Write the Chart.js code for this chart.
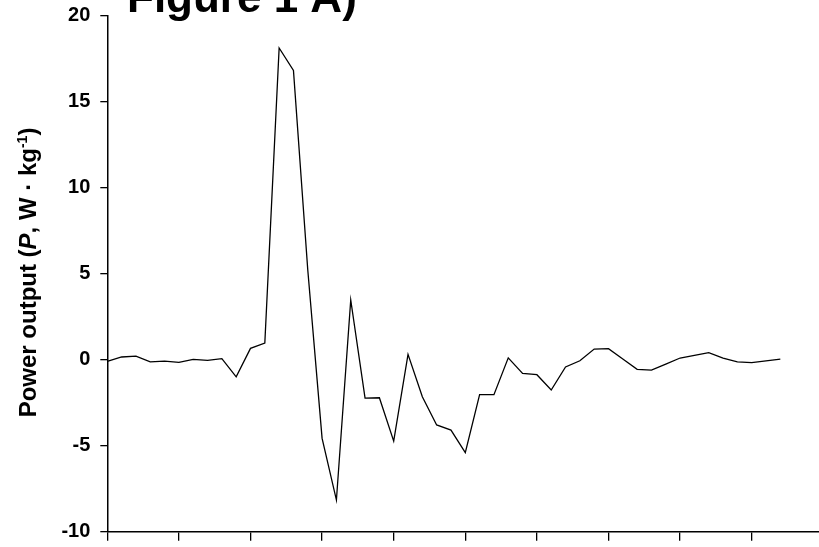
<!DOCTYPE html>
<html>
<head>
<meta charset="utf-8">
<script src="https://cdn.jsdelivr.net/npm/chart.js@4/dist/chart.umd.min.js"></script>
<style>
  html, body { margin: 0; padding: 0; background: #fff; }
  #wrap { width: 819px; height: 547px; }
</style>
</head>
<body>
<div id="wrap"><canvas id="power-chart" width="819" height="547"></canvas></div>
<script>
// power output per sample (W/kg)
const powerValues = [-0.1, 0.15, 0.2, -0.13, -0.09, -0.16, 0.01, -0.05, 0.05, -1.0,
  0.65, 0.96, 18.1, 16.8, 5.2, -4.58, -8.16, 3.46, -2.24, -2.22,
  -4.74, 0.3, -2.16, -3.8, -4.1, -5.41, -2.04, -2.04, 0.1, -0.8,
  -0.88, -1.77, -0.43, -0.07, 0.61, 0.63, 0.03, -0.57, -0.61, -0.26,
  0.09, 0.24, 0.4, 0.09, -0.13, -0.18, -0.08, 0.03];
const xTickValues = [0, 5, 10, 15, 20, 25, 30, 35, 40, 45];
const yTickValues = [-10, -5, 0, 5, 10, 15, 20];

const titleText = 'Figure 1 A)';
const fontFam = '"Liberation Sans", Arial, sans-serif';

// title + y axis label (mixed italic / superscript)
const textPlugin = {
  id: 'figText',
  afterDraw(chart) {
    const ctx = chart.ctx;
    ctx.save();
    ctx.fillStyle = '#000';
    ctx.font = 'bold 44px ' + fontFam;
    ctx.textBaseline = 'alphabetic';
    ctx.textAlign = 'left';
    ctx.fillText(titleText, 127, 12);

    const parts = [
      { t: 'Power output (', f: 'bold 24px ' + fontFam, dy: 0 },
      { t: 'P', f: 'italic bold 24px ' + fontFam, dy: 0 },
      { t: ', W \u00b7 kg', f: 'bold 24px ' + fontFam, dy: 0 },
      { t: '-1', f: 'bold 14px ' + fontFam, dy: -9 },
      { t: ')', f: 'bold 24px ' + fontFam, dy: 0 }
    ];
    let total = 0;
    parts.forEach(p => { ctx.font = p.f; p.w = ctx.measureText(p.t).width; total += p.w; });
    ctx.translate(36, 272.5);
    ctx.rotate(-Math.PI / 2);
    let x = -total / 2;
    parts.forEach(p => {
      ctx.font = p.f;
      ctx.fillText(p.t, x, p.dy);
      x += p.w;
    });
    ctx.restore();
  }
};

function noPad(s) {
  s.paddingTop = 0; s.paddingBottom = 0;
  s.paddingLeft = 0; s.paddingRight = 0;
}

new Chart(document.getElementById('power-chart'), {
  type: 'line',
  data: {
    datasets: [{
      data: powerValues.map((v, i) => ({ x: i, y: v })),
      borderColor: '#000',
      borderWidth: 1.3,
      pointRadius: 0,
      tension: 0,
      fill: false
    }]
  },
  options: {
    responsive: false,
    animation: false,
    layout: { padding: { top: 15.3, right: 0, left: 0, bottom: 0 } },
    plugins: {
      legend: { display: false },
      tooltip: { enabled: false },
      title: { display: false }
    },
    scales: {
      x: {
        type: 'linear',
        min: 0,
        max: 49.7,
        afterBuildTicks: s => { s.ticks = xTickValues.map(v => ({ value: v })); },
        afterFit: s => { s.height = 15.3; noPad(s); },
        ticks: { display: false },
        grid: { drawOnChartArea: false, drawTicks: true, tickLength: 9, color: '#000', lineWidth: 1.3 },
        border: { display: true, color: '#000', width: 1.5 }
      },
      y: {
        min: -10,
        max: 20,
        afterBuildTicks: s => { s.ticks = yTickValues.map(v => ({ value: v })); },
        afterFit: s => { s.width = 107.3; noPad(s); },
        ticks: {
          color: '#000',
          padding: 10,
          font: { family: fontFam, size: 20, weight: 'bold' }
        },
        grid: { drawOnChartArea: false, drawTicks: true, tickLength: 7, color: '#000', lineWidth: 1.3 },
        border: { display: true, color: '#000', width: 1.5 }
      }
    }
  },
  plugins: [textPlugin]
});
</script>
</body>
</html>
